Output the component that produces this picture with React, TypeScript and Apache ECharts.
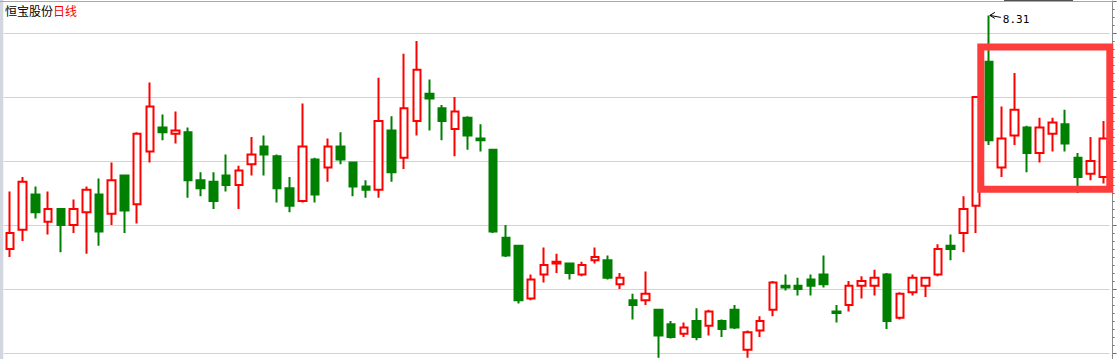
import React, { useEffect, useRef } from "react";
import * as echarts from "echarts";

const stockName = "恒宝股份";
const periodLabel = "日线";

// 87 trading days (dates not shown on the chart)
const days: string[] = Array.from({ length: 87 }, (_, i) => `第${i + 1}日`);

const opens = [
  6.85, 6.97, 7.19, 7.02, 7.10, 7.00, 7.08, 7.19, 7.07, 7.31,
  7.13, 7.46, 7.61, 7.57, 7.58, 7.28, 7.27, 7.31, 7.25, 7.38,
  7.49, 7.43, 7.23, 7.15, 7.41, 7.36, 7.49, 7.39, 7.24, 7.22,
  7.59, 7.42, 7.65, 7.82, 7.73, 7.60, 7.67, 7.54, 7.47, 6.92,
  6.87, 6.54, 6.69, 6.76, 6.76, 6.69, 6.78, 6.78, 6.63, 6.53,
  6.53, 6.47, 6.38, 6.32, 6.40, 6.37, 6.40, 6.47, 6.22, 6.34,
  6.47, 6.62, 6.62, 6.66, 6.69, 6.46, 6.50, 6.62, 6.62, 6.69,
  6.42, 6.58, 6.62, 6.69, 6.87, 6.95, 7.12, 8.02, 7.36, 7.56,
  7.61, 7.45, 7.57, 7.63, 7.42, 7.32, 7.30,
];
const closes = [
  6.95, 7.27, 7.08, 7.10, 7.00, 7.10, 7.22, 6.96, 7.28, 7.09,
  7.57, 7.74, 7.58, 7.59, 7.28, 7.23, 7.15, 7.25, 7.34, 7.44,
  7.44, 7.23, 7.12, 7.49, 7.19, 7.49, 7.41, 7.24, 7.22, 7.65,
  7.33, 7.73, 7.97, 7.79, 7.65, 7.71, 7.56, 7.53, 6.96, 6.81,
  6.53, 6.66, 6.75, 6.77, 6.70, 6.75, 6.80, 6.67, 6.67, 6.50,
  6.57, 6.31, 6.30, 6.36, 6.30, 6.46, 6.35, 6.36, 6.33, 6.40,
  6.64, 6.61, 6.60, 6.62, 6.63, 6.45, 6.62, 6.65, 6.67, 6.40,
  6.57, 6.67, 6.67, 6.85, 6.85, 7.10, 7.80, 7.53, 7.54, 7.72,
  7.45, 7.61, 7.64, 7.51, 7.30, 7.40, 7.54,
];
const lows = [
  6.80, 6.90, 7.04, 6.94, 6.83, 6.95, 6.82, 6.87, 7.00, 6.95,
  7.01, 7.39, 7.53, 7.51, 7.17, 7.18, 7.10, 7.21, 7.10, 7.31,
  7.31, 7.14, 7.08, 7.14, 7.14, 7.27, 7.38, 7.18, 7.17, 7.17,
  7.27, 7.35, 7.56, 7.59, 7.53, 7.43, 7.47, 7.46, 6.95, 6.80,
  6.51, 6.53, 6.64, 6.70, 6.66, 6.68, 6.76, 6.66, 6.60, 6.41,
  6.50, 6.17, 6.29, 6.30, 6.28, 6.31, 6.30, 6.35, 6.17, 6.30,
  6.43, 6.59, 6.56, 6.56, 6.61, 6.39, 6.46, 6.54, 6.56, 6.35,
  6.41, 6.56, 6.55, 6.68, 6.78, 6.83, 6.95, 7.50, 7.30, 7.50,
  7.33, 7.39, 7.46, 7.46, 7.20, 7.28, 7.26,
];
const highs = [
  7.21, 7.30, 7.24, 7.21, 7.10, 7.16, 7.24, 7.29, 7.39, 7.31,
  7.58, 7.89, 7.69, 7.71, 7.61, 7.33, 7.33, 7.44, 7.37, 7.55,
  7.56, 7.44, 7.30, 7.76, 7.42, 7.54, 7.58, 7.39, 7.28, 7.92,
  7.68, 8.07, 8.15, 7.91, 7.75, 7.80, 7.68, 7.63, 7.47, 7.00,
  6.87, 6.69, 6.86, 6.82, 6.76, 6.77, 6.86, 6.81, 6.70, 6.57,
  6.71, 6.47, 6.40, 6.39, 6.48, 6.47, 6.41, 6.50, 6.34, 6.43,
  6.65, 6.69, 6.67, 6.69, 6.81, 6.50, 6.65, 6.68, 6.72, 6.70,
  6.58, 6.69, 6.67, 6.88, 6.94, 7.18, 7.80, 8.31, 7.74, 7.95,
  7.62, 7.67, 7.67, 7.72, 7.45, 7.55, 7.65,
];

const RED = "#ff0000";
const GREEN = "#008000";
const FONT = "'Noto Sans CJK SC', 'Noto Sans', sans-serif";

export default function App() {
  const ref = useRef<HTMLDivElement>(null);

  useEffect(() => {
    if (!ref.current) return;
    const chart = echarts.init(ref.current, undefined, { renderer: "svg" });
    const data = days.map((_, i) => [opens[i], closes[i], lows[i], highs[i]]);

    chart.setOption({
      animation: false,
      backgroundColor: "#ffffff",
      title: {
        text: `{a|${stockName}}{b|${periodLabel}}`,
        left: 5,
        top: 3,
        padding: 0,
        textStyle: {
          fontWeight: "normal",
          rich: {
            a: { color: "#000000", fontSize: 12, fontFamily: FONT, fontWeight: "normal", lineHeight: 14 },
            b: { color: RED, fontSize: 12, fontFamily: FONT, fontWeight: "normal", lineHeight: 14 },
          },
        },
      },
      grid: { left: 3.64, top: 1, width: 1106, height: 352, containLabel: false },
      xAxis: {
        type: "category",
        data: days,
        boundaryGap: true,
        show: false,
      },
      yAxis: {
        type: "value",
        position: "right",
        offset: 3,
        min: 6.2,
        max: 8.4,
        interval: 0.4,
        axisLine: { show: true, lineStyle: { color: "#8a8a8a", width: 1 } },
        axisTick: { show: true, inside: false, length: 4, lineStyle: { color: "#707070" } },
        minorTick: { show: true, splitNumber: 8, length: 2, lineStyle: { color: "#707070" } },
        axisLabel: { show: false },
        splitLine: { show: true, lineStyle: { color: "#d3d3d3", width: 1 } },
      },
      series: [
        {
          type: "candlestick",
          data,
          barWidth: 8,
          clip: false,
          itemStyle: {
            color: "#ffffff",
            color0: GREEN,
            borderColor: RED,
            borderColor0: GREEN,
            borderWidth: 2,
          },
        },
      ],
    });

    // annotate the highest price, positioned through the chart's own scales
    let peakIdx = 0;
    highs.forEach((h, i) => {
      if (h > highs[peakIdx]) peakIdx = i;
    });
    const [px, py] = chart.convertToPixel({ gridIndex: 0 } as any, [peakIdx, highs[peakIdx]]) as number[];

    chart.setOption({
      graphic: [
        { type: "rect", shape: { x: 0, y: 0, width: 3.3, height: 359 }, style: { fill: "#d2d6de" }, z: 10 },
        { type: "line", shape: { x1: 0, y1: 1.5, x2: 1113, y2: 1.5 }, style: { stroke: "#a8a8a8", lineWidth: 1 }, z: 10 },
        { type: "line", shape: { x1: 1112.5, y1: 353, x2: 1112.5, y2: 359 }, style: { stroke: "#8a8a8a", lineWidth: 1 }, z: 10 },
        { type: "rect", shape: { x: 1004, y: 0, width: 69, height: 1 }, style: { fill: "#505050" }, z: 11 },
        {
          type: "polyline",
          shape: { points: [[px + 6, py - 3], [px + 1, py], [px + 6, py + 3]] },
          style: { stroke: "#000000", lineWidth: 1, fill: null },
          z: 12,
        },
        { type: "line", shape: { x1: px + 1, y1: py, x2: px + 12, y2: py + 2 }, style: { stroke: "#000000", lineWidth: 1 }, z: 12 },
        {
          type: "text",
          x: px + 14,
          y: py + 4,
          style: {
            text: highs[peakIdx].toFixed(2),
            fill: "#000000",
            font: "11px 'DejaVu Sans Mono', monospace",
            textVerticalAlign: "middle",
            verticalAlign: "middle",
          },
          z: 12,
        },
        {
          type: "rect",
          shape: { x: 980.8, y: 47, width: 129, height: 142.2 },
          style: { fill: null, stroke: "#fe3c3c", lineWidth: 7 },
          z: 20,
        },
      ],
    });

    return () => chart.dispose();
  }, []);

  return (
    <div
      ref={ref}
      style={{ position: "fixed", left: 0, top: 0, width: 1120, height: 359, background: "#fff" }}
    />
  );
}
